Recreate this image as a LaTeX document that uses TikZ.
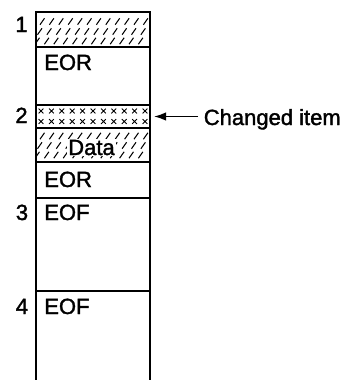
\documentclass[tikz,border=0pt]{standalone}
\usepackage{fontspec}
\setmainfont{Liberation Sans}[FakeBold=1.6]
\usetikzlibrary{arrows.meta}
\begin{document}
\begin{tikzpicture}[x=1pt,y=-1pt,line width=1.6pt,
  seg/.style={draw,minimum width=114pt,inner sep=0pt,outer sep=0pt,anchor=north west},
  lbl/.style={font=\fontsize{22}{26}\selectfont,inner sep=0pt,anchor=base west},
  num/.style={font=\fontsize{22}{26}\selectfont,inner sep=0pt,anchor=base},
  hatch/.style={line width=1.05pt},
  cross/.style={line width=0.9pt},
  arr/.style={line width=1.7pt,-{Latex[length=12pt,width=8.5pt]}}]
\useasboundingbox (0,0) rectangle (348,380);
% segments
\node[seg,minimum height=35pt] (s1) at (36,12) {};
\node[seg,minimum height=58pt] (s2) at (36,47) {};
\node[seg,minimum height=23pt] (s3) at (36,105) {};
\node[seg,minimum height=34pt] (s4) at (36,128) {};
\node[seg,minimum height=36pt] (s5) at (36,162) {};
\node[seg,minimum height=93pt] (s6) at (36,198) {};
\node[seg,minimum height=96pt] (s7) at (36,291) {};
% hatching in s1
\begin{scope}
\clip (37,13) rectangle (149,46);
\foreach \r/\y in {0/21.5,1/31.5,2/41}
  \foreach \i in {0,...,11}
    \draw[hatch] ({40+\i*9.4-\r*2.5},\y+3.2) -- ({44.5+\i*9.4-\r*2.5},\y-3.2);
\end{scope}
% hatching in s4
\begin{scope}
\clip (37,129) rectangle (149,161);
\foreach \r/\y in {0/136,1/145.5,2/155}
  \foreach \i in {0,...,11}
    \draw[hatch] ({40+\i*9.4-\r*2.5},\y+3.2) -- ({44.5+\i*9.4-\r*2.5},\y-3.2);
\end{scope}
% crosses in s3
\foreach \y in {111,121.5}
  \foreach \i in {0,...,10}
    \draw[cross] ({41+\i*10.4-2.4},\y-2.4) -- ({41+\i*10.4+2.4},\y+2.4)
                 ({41+\i*10.4-2.4},\y+2.4) -- ({41+\i*10.4+2.4},\y-2.4);
% texts
\node[lbl] (t1) at (43.5,70) {EOR};
\node[num,fill=white,inner sep=1.2pt] (t2) at (91.5,155) {Data};
\node[lbl] (t3) at (43.5,187) {EOR};
\node[lbl] (t4) at (43.5,220) {EOF};
\node[lbl] (t5) at (43.5,314) {EOF};
\node[num] (n1) at (21.5,32) {1};
\node[num] (n2) at (21.5,123) {2};
\node[num] (n3) at (22,220) {3};
\node[num] (n4) at (22,314) {4};
% changed item
\node[lbl] (ci) at (203,125) {Changed item};
\path (ci.west |- s3.east) coordinate (ciw);
\draw[arr] ([xshift=-5pt]ciw) -- ([xshift=4pt]s3.east);
\end{tikzpicture}
\end{document}
